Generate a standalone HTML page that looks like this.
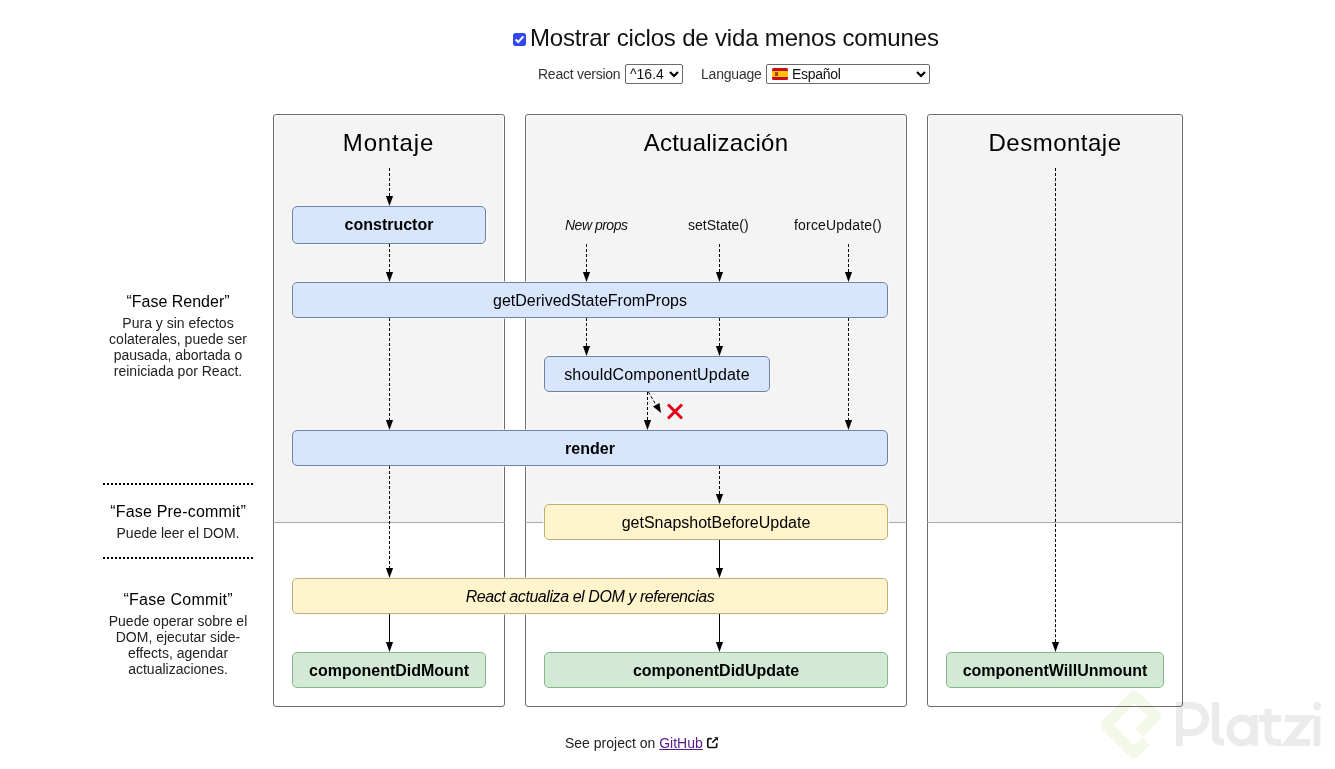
<!DOCTYPE html>
<html><head><meta charset="utf-8">
<style>
*{box-sizing:border-box;margin:0;padding:0}
html,body{width:1335px;height:769px;overflow:hidden;background:#fff}
body{position:relative;font-family:"Liberation Sans",sans-serif;color:#000}
.a{position:absolute;white-space:nowrap}
.col{position:absolute;top:114px;height:593px;border:1px solid #6b6b6b;border-radius:3px;background:#fff}
.col .g{position:absolute;left:1px;right:1px;top:1px;height:406px;background:#f4f4f4;border-radius:2px 2px 0 0}
.col .d{position:absolute;left:-1px;right:-1px;top:407px;height:1px;background:#aaa}
.h{position:absolute;font-size:24px;line-height:24px;text-align:center;color:#000}
.b{position:absolute;border:1px solid;border-radius:5px;text-align:center;font-size:16px;padding-top:1px;box-shadow:0 0 0 1px rgba(250,252,255,.65)}
.bl{background:#d8e6fd;border-color:#72819f}
.ye{background:#fff4cb;border-color:#bfae74}
.gr{background:#d2ead5;border-color:#8db58d}
.bo{font-weight:bold}
.t14{font-size:14px;line-height:14px}
.lh{font-size:16px;line-height:16px;color:#000}
.ld{font-size:14px;line-height:16px;color:#222;text-align:center}
</style></head><body>

<!-- header -->
<div class="a" style="left:513px;top:33px;width:13px;height:13px;background:#3347ef;border-radius:2.5px">
<svg width="13" height="13" viewBox="0 0 13 13" style="position:absolute;left:0;top:0"><path d="M2.6 6.6 L5.2 9.1 L10.4 3.4" fill="none" stroke="#fff" stroke-width="2.1"/></svg>
</div>
<div class="a" style="left:530px;top:26px;font-size:24px;line-height:24px;color:#111;letter-spacing:-0.17px">Mostrar ciclos de vida menos comunes</div>

<div class="a t14" style="left:538px;top:67px;color:#333;letter-spacing:-0.25px">React version</div>
<div class="a" style="left:625px;top:64px;width:58px;height:20px;border:1px solid #6a6a6a;border-radius:2px;background:#fff"></div>
<div class="a t14" style="left:630px;top:67px;color:#111">^16.4</div>
<svg class="a" style="left:669px;top:70px" width="10" height="8" viewBox="0 0 10 8"><path d="M1 2 L5 6 L9 2" fill="none" stroke="#000" stroke-width="2.2"/></svg>

<div class="a t14" style="left:701px;top:67px;color:#333;letter-spacing:-0.2px">Language</div>
<div class="a" style="left:766px;top:64px;width:164px;height:20px;border:1px solid #6a6a6a;border-radius:2px;background:#fff"></div>
<svg class="a" style="left:772px;top:68px" width="16" height="12" viewBox="0 0 16 12"><rect x="0" y="0" width="16" height="12" rx="1.5" fill="#c60b1e"/><rect x="0" y="3" width="16" height="6" fill="#ffc400"/><rect x="3" y="4" width="3" height="4" fill="#ad1519" opacity=".8"/></svg>
<div class="a t14" style="left:792px;top:67px;color:#111;letter-spacing:-0.3px">Español</div>
<svg class="a" style="left:916px;top:70px" width="10" height="8" viewBox="0 0 10 8"><path d="M1 2 L5 6 L9 2" fill="none" stroke="#000" stroke-width="2.2"/></svg>

<!-- columns -->
<div class="col" style="left:273px;width:232px"><div class="g"></div><div class="d"></div></div>
<div class="col" style="left:525px;width:382px"><div class="g"></div><div class="d"></div></div>
<div class="col" style="left:927px;width:256px"><div class="g"></div><div class="d"></div></div>

<div class="h" style="left:273px;width:232px;top:131px;letter-spacing:0.85px;text-indent:-1px">Montaje</div>
<div class="h" style="left:525px;width:382px;top:131px;letter-spacing:0.25px">Actualización</div>
<div class="h" style="left:927px;width:256px;top:131px;letter-spacing:0.5px">Desmontaje</div>

<!-- labels in update column -->
<div class="a t14" style="left:565px;top:218px;font-style:italic;color:#111;letter-spacing:-0.5px">New props</div>
<div class="a t14" style="left:688px;top:218px;color:#111">setState()</div>
<div class="a t14" style="left:794px;top:218px;color:#111;letter-spacing:0.18px">forceUpdate()</div>

<!-- boxes -->
<div class="b bl bo" style="left:292px;top:206px;width:194px;height:38px;line-height:36px;padding-top:0">constructor</div>
<div class="b bl" style="left:292px;top:282px;width:596px;height:36px;line-height:34px">getDerivedStateFromProps</div>
<div class="b bl" style="left:544px;top:356px;width:226px;height:36px;line-height:34px;letter-spacing:0.2px">shouldComponentUpdate</div>
<div class="b bl bo" style="left:292px;top:430px;width:596px;height:36px;line-height:34px">render</div>
<div class="b ye" style="left:544px;top:504px;width:344px;height:36px;line-height:34px">getSnapshotBeforeUpdate</div>
<div class="b ye" style="left:292px;top:578px;width:596px;height:36px;line-height:34px;font-style:italic;letter-spacing:-0.43px">React actualiza el DOM y referencias</div>
<div class="b gr bo" style="left:292px;top:652px;width:194px;height:36px;line-height:34px">componentDidMount</div>
<div class="b gr bo" style="left:544px;top:652px;width:344px;height:36px;line-height:34px">componentDidUpdate</div>
<div class="b gr bo" style="left:946px;top:652px;width:218px;height:36px;line-height:34px">componentWillUnmount</div>

<!-- arrows -->
<svg class="a" style="left:0;top:0" width="1335" height="769" viewBox="0 0 1335 769">

<g stroke="#000" stroke-width="1" fill="none">
<g stroke-dasharray="3 2">
<line x1="389.5" y1="168" x2="389.5" y2="196"/>
<line x1="389.5" y1="244" x2="389.5" y2="272"/>
<line x1="389.5" y1="318" x2="389.5" y2="420"/>
<line x1="389.5" y1="466" x2="389.5" y2="568"/>
<line x1="586.5" y1="244" x2="586.5" y2="272"/>
<line x1="719.5" y1="244" x2="719.5" y2="272"/>
<line x1="848.5" y1="244" x2="848.5" y2="272"/>
<line x1="586.5" y1="318" x2="586.5" y2="346"/>
<line x1="719.5" y1="318" x2="719.5" y2="346"/>
<line x1="848.5" y1="318" x2="848.5" y2="420"/>
<line x1="647.5" y1="392" x2="647.5" y2="420"/>
<line x1="648.5" y1="392" x2="656" y2="405"/>
<line x1="719.5" y1="466" x2="719.5" y2="494"/>
<line x1="1055.5" y1="168" x2="1055.5" y2="642" stroke-dasharray="3.0075 2.005"/>
</g>
<line x1="389.5" y1="614" x2="389.5" y2="642"/>
<line x1="719.5" y1="540" x2="719.5" y2="568"/>
<line x1="719.5" y1="614" x2="719.5" y2="642"/>
</g>
<g fill="#000">
<path d="M385.9 196 L393.1 196 L389.5 206 Z"/>
<path d="M385.9 272 L393.1 272 L389.5 282 Z"/>
<path d="M385.9 420 L393.1 420 L389.5 430 Z"/>
<path d="M385.9 568 L393.1 568 L389.5 578 Z"/>
<path d="M385.9 642 L393.1 642 L389.5 652 Z"/>
<path d="M582.9 272 L590.1 272 L586.5 282 Z"/>
<path d="M715.9 272 L723.1 272 L719.5 282 Z"/>
<path d="M844.9 272 L852.1 272 L848.5 282 Z"/>
<path d="M582.9 346 L590.1 346 L586.5 356 Z"/>
<path d="M715.9 346 L723.1 346 L719.5 356 Z"/>
<path d="M844.9 420 L852.1 420 L848.5 430 Z"/>
<path d="M643.9 420 L651.1 420 L647.5 430 Z"/>
<path d="M653 406.5 L659.5 403 L661 413 Z"/>
<path d="M715.9 494 L723.1 494 L719.5 504 Z"/>
<path d="M715.9 568 L723.1 568 L719.5 578 Z"/>
<path d="M715.9 642 L723.1 642 L719.5 652 Z"/>
<path d="M1051.9 642 L1059.1 642 L1055.5 652 Z"/>
</g>
<g stroke="#e3001b" stroke-width="3">
<line x1="668" y1="404.5" x2="682" y2="418.5"/>
<line x1="682" y1="404.5" x2="668" y2="418.5"/>
</g>
<!-- dotted separators -->
<g stroke="#000" stroke-width="2" stroke-dasharray="2 2">
<line x1="103" y1="484" x2="253" y2="484"/>
<line x1="103" y1="558" x2="253" y2="558"/>
</g>
</svg>

<!-- left labels -->
<div class="a lh" style="left:103px;width:150px;text-align:center;top:294px">“Fase Render”</div>
<div class="a ld" style="left:103px;width:150px;top:315px;white-space:normal">Pura y sin efectos<br>colaterales, puede ser<br>pausada, abortada o<br>reiniciada por React.</div>
<div class="a lh" style="left:103px;width:150px;text-align:center;top:504px;letter-spacing:0.2px;text-indent:0.2px">“Fase Pre-commit”</div>
<div class="a ld" style="left:103px;width:150px;top:525px">Puede leer el DOM.</div>
<div class="a lh" style="left:103px;width:150px;text-align:center;top:592px;letter-spacing:0.28px;text-indent:0.28px">“Fase Commit”</div>
<div class="a ld" style="left:103px;width:150px;top:613px;white-space:normal">Puede operar sobre el<br>DOM, ejecutar side-<br>effects, agendar<br>actualizaciones.</div>

<!-- footer -->
<div class="a t14" style="left:565px;top:736px;color:#222">See project on <span style="color:#551a8b;text-decoration:underline">GitHub</span></div>
<svg class="a" style="left:706px;top:736px" width="13" height="13" viewBox="0 0 13 13"><path d="M5.8 2.6 H3 Q1.8 2.6 1.8 3.8 V10.3 Q1.8 11.5 3 11.5 H9.5 Q10.7 11.5 10.7 10.3 V7.2" fill="none" stroke="#111" stroke-width="1.7"/><path d="M6.3 6.7 L10 3" stroke="#111" stroke-width="1.7"/><path d="M8.2 1.2 H12 V5 Z" fill="#111"/></svg>


<!-- watermark -->
<svg class="a" style="left:0;top:0;mix-blend-mode:multiply" width="1335" height="769" viewBox="0 0 1335 769">
<path d="M1146 741 L1134 753 L1106 725 L1134 696 L1155.5 716 L1139 733" fill="none" stroke="#f3f8e8" stroke-width="11" stroke-linejoin="round" stroke-linecap="butt"/>
<g fill="none" stroke="#ebebeb" stroke-width="7">
<path d="M1179.5 746 V705.5 H1192 A13.5 13.5 0 0 1 1192 732.5 H1179.5"/>
<path d="M1215.5 702 V736 Q1215.5 742.5 1224 742.5"/>
<path d="M1254.5 715 V746"/>
<ellipse cx="1242" cy="730.5" rx="12" ry="12.5"/>
<path d="M1268 709 V735 Q1268 742.5 1278 742.5 H1281"/>
<path d="M1259 718.5 H1281"/>
<path d="M1285 718.5 H1308 L1288 742.5 H1310"/>
<path d="M1317 716 V746"/>
</g>
<circle cx="1317" cy="706" r="4.2" fill="#ebebeb"/>
</svg>
</body></html>
